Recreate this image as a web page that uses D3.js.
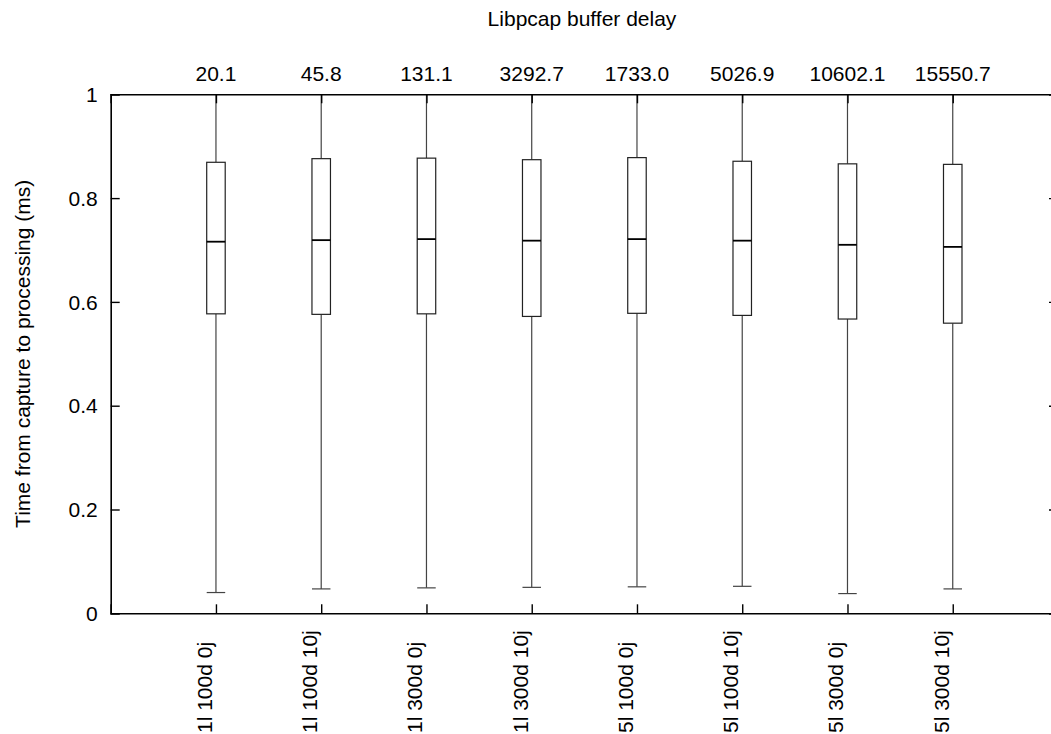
<!DOCTYPE html>
<html>
<head>
<meta charset="utf-8">
<script src="https://cdn.jsdelivr.net/npm/d3@7"></script>
<style>
  html, body { margin: 0; padding: 0; background: #fff; }
  svg { display: block; }
  text { font-family: "Liberation Sans", Arial, Helvetica, sans-serif; font-size: 21px; fill: #000; }
</style>
</head>
<body>
<svg id="chart" width="1051" height="734"></svg>
<script>
// Test configurations (bottom axis) and their mean libpcap buffer delay (top axis)
const configs = ["1l 100d 0j", "1l 100d 10j", "1l 300d 0j", "1l 300d 10j",
                 "5l 100d 0j", "5l 100d 10j", "5l 300d 0j", "5l 300d 10j"];
const bufferDelay = ["20.1", "45.8", "131.1", "3292.7", "1733.0", "5026.9", "10602.1", "15550.7"];

// Box-plot statistics per configuration (ms)
const whiskerLow  = [0.040, 0.047, 0.049, 0.050, 0.051, 0.052, 0.038, 0.047];
const quartile1   = [0.577, 0.576, 0.577, 0.572, 0.578, 0.574, 0.567, 0.559];
const medianVal   = [0.716, 0.719, 0.721, 0.718, 0.721, 0.718, 0.710, 0.706];
const quartile3   = [0.869, 0.876, 0.877, 0.874, 0.878, 0.871, 0.866, 0.865];
const whiskerHigh = [1.0, 1.0, 1.0, 1.0, 1.0, 1.0, 1.0, 1.0];

const yTicks = [0, 0.2, 0.4, 0.6, 0.8, 1];

const svg = d3.select("#chart");
const m = { left: 110.7, right: 1058, top: 94.3, bottom: 613.3 };

const x = d3.scaleLinear().domain([0, configs.length + 1]).range([m.left, m.right]);
const y = d3.scaleLinear().domain([0, 1]).range([m.bottom, m.top]);
const boxW = 18.5, tickLen = 9;

const boxes = configs.map((c, i) => ({
  name: c, delay: bufferDelay[i], pos: i + 1,
  lo: whiskerLow[i], q1: quartile1[i], med: medianVal[i], q3: quartile3[i], hi: whiskerHigh[i]
}));

const plot = svg.append("g");

// Whiskers
plot.selectAll("line.whisk-up").data(boxes).join("line")
  .attr("x1", d => x(d.pos)).attr("x2", d => x(d.pos))
  .attr("y1", d => y(d.q3)).attr("y2", d => y(d.hi))
  .attr("stroke", "#444").attr("stroke-width", 1.2);
plot.selectAll("line.whisk-down").data(boxes).join("line")
  .attr("x1", d => x(d.pos)).attr("x2", d => x(d.pos))
  .attr("y1", d => y(d.q1)).attr("y2", d => y(d.lo))
  .attr("stroke", "#444").attr("stroke-width", 1.2);
plot.selectAll("line.cap").data(boxes).join("line")
  .attr("x1", d => x(d.pos) - boxW / 2).attr("x2", d => x(d.pos) + boxW / 2)
  .attr("y1", d => y(d.lo)).attr("y2", d => y(d.lo))
  .attr("stroke", "#444").attr("stroke-width", 1.2);

// Boxes
plot.selectAll("rect.box").data(boxes).join("rect")
  .attr("x", d => x(d.pos) - boxW / 2).attr("width", boxW)
  .attr("y", d => y(d.q3)).attr("height", d => y(d.q1) - y(d.q3))
  .attr("fill", "#fff").attr("stroke", "#222").attr("stroke-width", 1.2);

// Medians
plot.selectAll("line.median").data(boxes).join("line")
  .attr("x1", d => x(d.pos) - boxW / 2).attr("x2", d => x(d.pos) + boxW / 2)
  .attr("y1", d => y(d.med)).attr("y2", d => y(d.med))
  .attr("stroke", "#000").attr("stroke-width", 1.8);

// Axes with inward ticks
const axisG = svg.append("g");
const yLeft = d3.axisLeft(y).tickValues(yTicks).tickSize(-tickLen).tickPadding(13)
  .tickFormat(d => d3.format("")(+d.toFixed(1)));
axisG.append("g").attr("transform", `translate(${m.left},0)`).call(yLeft);

const yRight = d3.axisRight(y).tickValues(yTicks).tickSize(-tickLen).tickFormat("");
axisG.append("g").attr("transform", `translate(${m.right},0)`).call(yRight);

const xBottom = d3.axisBottom(x).tickValues(boxes.map(d => d.pos)).tickSize(-tickLen).tickFormat("");
axisG.append("g").attr("transform", `translate(0,${m.bottom})`).call(xBottom);

const xTop = d3.axisTop(x).tickValues(boxes.map(d => d.pos)).tickSize(-tickLen).tickFormat("");
axisG.append("g").attr("transform", `translate(0,${m.top})`).call(xTop);

axisG.selectAll(".domain").attr("stroke", "#000").attr("stroke-width", 1.6);
axisG.selectAll(".tick line").attr("stroke", "#000").attr("stroke-width", 1.4);
axisG.selectAll(".tick text")
  .attr("font-family", "Liberation Sans, Arial, sans-serif")
  .attr("font-size", 20).attr("fill", "#000").attr("dy", "0.34em");

// Top labels: buffer delay
svg.selectAll("text.delay").data(boxes).join("text")
  .attr("x", d => x(d.pos)).attr("y", 81)
  .attr("text-anchor", "middle").text(d => d.delay);

// Bottom labels: configurations (rotated, reading upward)
svg.selectAll("text.cfg").data(boxes).join("text")
  .attr("transform", d => `translate(${x(d.pos) - 4},733) rotate(-90)`)
  .attr("text-anchor", "start").text(d => d.name);

// Titles
svg.append("text").attr("x", 582).attr("y", 26).attr("text-anchor", "middle")
  .text("Libpcap buffer delay");
svg.append("text").attr("transform", `translate(30,${(m.top + m.bottom) / 2}) rotate(-90)`)
  .attr("text-anchor", "middle").text("Time from capture to processing (ms)");
</script>
</body>
</html>
